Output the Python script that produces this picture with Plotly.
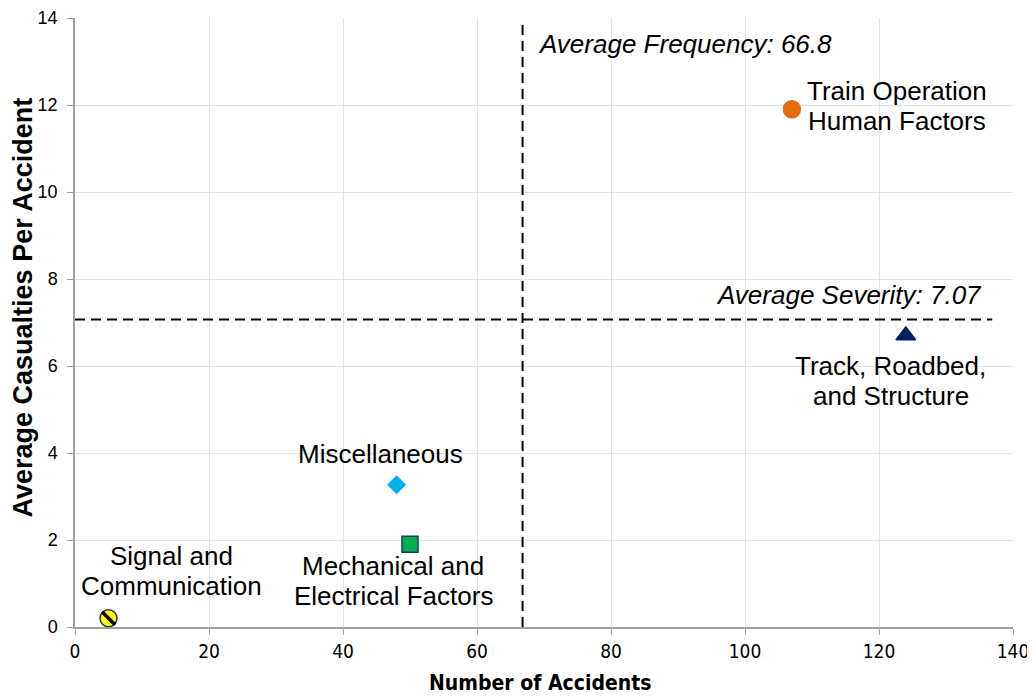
import plotly.graph_objects as go

categories = ["Signal and<br>Communication", "Miscellaneous", "Mechanical and<br>Electrical Factors",
              "Train Operation<br>Human Factors", "Track, Roadbed,<br>and Structure"]
accidents = [5, 48, 50, 107, 124]
casualties = [0.2, 3.27, 1.9, 11.9, 6.7]
avg_frequency = 66.8
avg_severity = 7.07

symbols = ["circle", "diamond", "square", "circle", "triangle-up"]
colors = ["#FFFF00", "#00B0F0", "#00B050", "#E46C0A", "#002060"]
line_colors = ["#1F3864", "#00B0F0", "#1F3864", "#E46C0A", "#002060"]
sizes = [17, 13, 16, 17, 17]
label_offsets = [(63, -47), (-16, -31), (-17, 37), (105, -3), (-15, 45)]
LINE_GAP = 30

LBL = "Liberation Sans, Arial"
NARROW = "DejaVu Sans Condensed, Liberation Sans Narrow, Arial Narrow"

fig = go.Figure()
for i in range(len(categories)):
    fig.add_trace(go.Scatter(
        x=[accidents[i]], y=[casualties[i]], mode="markers",
        marker=dict(symbol=symbols[i], color=colors[i], size=sizes[i],
                    line=dict(color=line_colors[i], width=1.5)),
        showlegend=False, hoverinfo="skip"))
# stripe on signal marker
fig.add_trace(go.Scatter(
    x=[accidents[0]], y=[casualties[0]], mode="markers",
    marker=dict(symbol="line-nw", size=13, line=dict(color="black", width=3.5)),
    showlegend=False, hoverinfo="skip"))

# average lines
fig.add_trace(go.Scatter(x=[avg_frequency, avg_frequency], y=[0, 13.9], mode="lines",
                         line=dict(color="black", width=2, dash="10px,6px"), showlegend=False))
fig.add_trace(go.Scatter(x=[0, 136.9], y=[avg_severity, avg_severity], mode="lines",
                         line=dict(color="black", width=2, dash="10px,6px"), showlegend=False))

for i in range(len(categories)):
    lines = categories[i].split("<br>")
    n = len(lines)
    for j, ln in enumerate(lines):
        dy = label_offsets[i][1] + (j - (n - 1) / 2) * LINE_GAP
        fig.add_annotation(x=accidents[i], y=casualties[i], text=ln, showarrow=False,
                           xshift=label_offsets[i][0], yshift=-dy,
                           font=dict(family=LBL, size=26, color="black"),
                           align="center")

fig.add_annotation(x=avg_frequency, y=13.4, text="<i>Average Frequency: 66.8</i>", showarrow=False,
                   xanchor="left", xshift=13,
                   font=dict(family=LBL, size=26, color="black"))
fig.add_annotation(x=136.9, y=avg_severity, text="<i>Average Severity: 7.07</i>", showarrow=False,
                   xanchor="right", yanchor="bottom", xshift=-8, yshift=7,
                   font=dict(family=LBL, size=26, color="black"))

# axis titles
fig.add_annotation(xref="paper", yref="paper", x=0.5, y=0, yshift=-56, xshift=-4, yanchor="middle",
                   text="<b>Number of Accidents</b>", showarrow=False,
                   font=dict(family=NARROW, size=21, color="black"))
fig.add_annotation(xref="paper", yref="paper", x=0, y=0.5, xshift=-53, yshift=15, xanchor="center",
                   text="<b>Average Casualties Per Accident</b>", showarrow=False, textangle=-90,
                   font=dict(family=LBL, size=27, color="black"))

# page body has an 8px margin: size/margins compensate so the plot lands where the reference has it
fig.update_layout(
    width=1027, height=690,
    margin=dict(l=67, r=22, t=10, b=71),
    plot_bgcolor="white", paper_bgcolor="white",
    xaxis=dict(range=[0, 140], dtick=20, showgrid=True, gridcolor="#DCE6F2", gridwidth=1,
               showline=True, linecolor="#A0A0A0", linewidth=1.5, ticks="outside",
               tickcolor="#A0A0A0", ticklen=6, zeroline=False, automargin=False,
               ticklabeloverflow="allow",
               tickfont=dict(family=NARROW, size=19, color="black")),
    yaxis=dict(range=[0, 14], dtick=2, showgrid=True, gridcolor="#DCE6F2", gridwidth=1,
               showline=True, linecolor="#A0A0A0", linewidth=1.5, ticks="outside",
               tickcolor="#A0A0A0", ticklen=6, zeroline=False, automargin=False,
               ticklabeloverflow="allow", ticklabelstandoff=6,
               tickfont=dict(family=LBL, size=18, color="black")),
)
fig.write_html("out.html")
